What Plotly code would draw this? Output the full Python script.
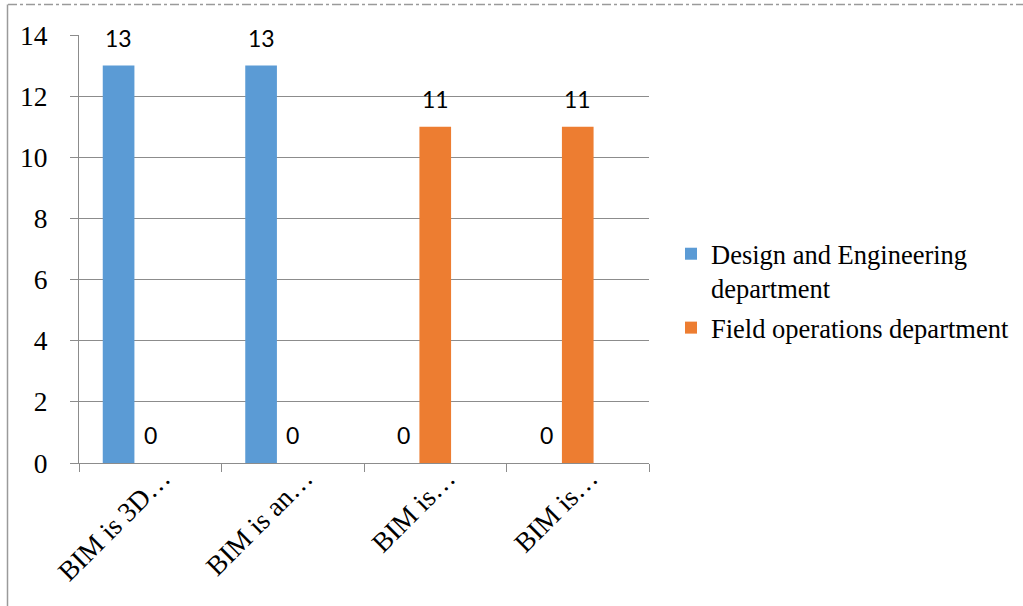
import plotly.graph_objects as go

# Chart data
categories = ["BIM is 3D…", "BIM is an…", "BIM is…", "BIM is…"]
series_names = ["Design and Engineering<br>department", "Field operations department"]
design_values = [13, 13, 0, 0]
field_values = [0, 0, 11, 11]
y_ticks = [0, 2, 4, 6, 8, 10, 12, 14]

colors = ["#5B9BD5", "#ED7D31"]

# Page geometry (pixels)
W, H = 1023, 606
L, R, T, B = 79, 374, 35, 143
PW, PH = W - L - R, H - T - B


def paper_x(px):
    return (px - L) / PW


def paper_y(py):
    return (H - B - py) / PH


SERIF = "Liberation Serif"

# Each category holds three slots with a 150% gap, series use the first two
slot = 1 / 4.5
offsets = [-1.5 * slot, -0.5 * slot]

x_pos = list(range(len(categories)))
fig = go.Figure()
for k, (name, vals, col, off) in enumerate(zip(series_names, [design_values, field_values], colors, offsets)):
    fig.add_trace(go.Bar(
        x=x_pos, y=vals, name=name, marker=dict(color=col, line=dict(width=0)),
        width=slot, offset=off, hoverinfo="skip", legendgroup=f"g{k}",
    ))

annotations = []
for vals, off in zip([design_values, field_values], offsets):
    for i, v in enumerate(vals):
        annotations.append(dict(
            x=i + off + slot / 2, y=v, xref="x", yref="y", text=str(v),
            showarrow=False, yanchor="bottom", yshift=12,
            font=dict(family="Lato", size=23, color="#000000"),
        ))

grid = "#8c8c8c"
fig.update_layout(
    template="none",
    width=W, height=H,
    margin=dict(l=L, r=R, t=T, b=B, pad=0, autoexpand=False),
    paper_bgcolor="white", plot_bgcolor="white",
    barmode="overlay",
    font=dict(family=SERIF, size=26.5, color="#000000"),
    xaxis=dict(
        automargin=False,
        range=[-0.5, len(categories) - 0.5],
        tickmode="array", tickvals=x_pos, ticktext=categories,
        tickangle=-45, ticks="", showgrid=False, zeroline=False,
        showline=True, linecolor=grid, linewidth=1,
        minor=dict(tickmode="array", tickvals=[i - 0.5 for i in range(len(categories) + 1)],
                   ticks="outside", ticklen=8, tickcolor=grid, tickwidth=1, showgrid=False),
        ticklabelshift=12, ticklabelstandoff=-13,
        tickfont=dict(family=SERIF, size=27.5, color="#000000"),
    ),
    yaxis=dict(
        automargin=False,
        range=[0, 14], tickmode="array", tickvals=y_ticks,
        ticktext=[str(v) for v in y_ticks],
        ticks="outside", ticklen=8, tickcolor=grid, tickwidth=1,
        showgrid=True, gridcolor=grid, gridwidth=1, zeroline=False,
        showline=True, linecolor=grid, linewidth=1,
        ticklabelstandoff=17,
        tickfont=dict(family=SERIF, size=27.5, color="#000000"),
    ),
    legend=dict(
        x=paper_x(671), y=paper_y(230), xanchor="left", yanchor="top",
        valign="top", bgcolor="rgba(0,0,0,0)", borderwidth=0, itemclick=False,
        font=dict(family=SERIF, size=26.5, color="#000000"), tracegroupgap=2,
    ),
    annotations=annotations,
    shapes=[
        dict(type="line", xref="paper", yref="paper",
             x0=paper_x(8), x1=paper_x(W), y0=paper_y(4.5), y1=paper_y(4.5),
             line=dict(color="#9a9a9a", width=1.5, dash="dashdot")),
        dict(type="line", xref="paper", yref="paper",
             x0=paper_x(7.5), x1=paper_x(7.5), y0=paper_y(4.5), y1=paper_y(H),
             line=dict(color="#9a9a9a", width=1.5)),
    ],
    showlegend=True,
)

fig.write_html("out.html")
